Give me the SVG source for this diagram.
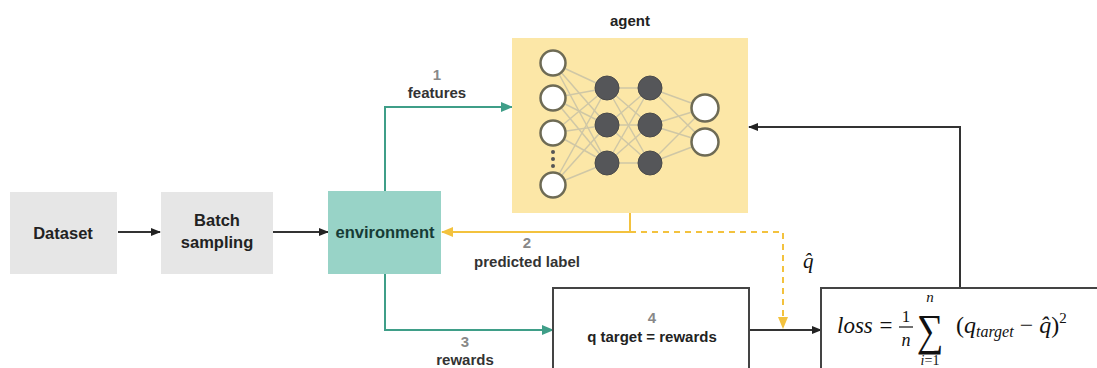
<svg xmlns="http://www.w3.org/2000/svg" width="1097" height="368" viewBox="0 0 1097 368">
<defs>
<style>
.lbl{font-family:"Liberation Sans",Arial,sans-serif;font-weight:bold;font-size:16.5px;fill:#222;text-anchor:middle}
.el{font-family:"Liberation Sans",Arial,sans-serif;font-weight:bold;font-size:15px;fill:#333;text-anchor:middle}
.num{font-family:"Liberation Sans",Arial,sans-serif;font-weight:bold;font-size:15px;fill:#888;text-anchor:middle}
.math{font-family:"Liberation Serif","DejaVu Serif",serif;font-style:italic;fill:#111}
.gray{fill:#e6e6e6}
.wbox{fill:#fff;stroke:#444;stroke-width:2}
.blk{fill:none;stroke:#333;stroke-width:2}
.teal{fill:none;stroke:#3f9e88;stroke-width:2}
.yel{fill:none;stroke:#f3c23e;stroke-width:2}
.nn{stroke:#cfc7a6;stroke-width:1.5}
.in{fill:#fff;stroke:#6e6b55;stroke-width:2.5}
.hid{fill:#555659;stroke:#4a4a4a;stroke-width:1}
</style>
<marker id="ab" markerWidth="10" markerHeight="8" refX="9" refY="4" orient="auto" markerUnits="userSpaceOnUse"><path d="M0,0 L10,4 L0,8 z" fill="#222"/></marker>
<marker id="at" markerWidth="12" markerHeight="10" refX="11" refY="5" orient="auto" markerUnits="userSpaceOnUse"><path d="M0,0 L12,5 L0,10 z" fill="#3f9e88"/></marker>
<marker id="ay" markerWidth="12" markerHeight="10" refX="11" refY="5" orient="auto" markerUnits="userSpaceOnUse"><path d="M0,0 L12,5 L0,10 z" fill="#f3c23e"/></marker>
</defs>
<rect width="1097" height="368" fill="#fff"/>

<g id="connectors">
<line class="blk" x1="118" y1="232" x2="160" y2="232" marker-end="url(#ab)"/>
<line class="blk" x1="273" y1="232" x2="328" y2="232" marker-end="url(#ab)"/>
<path class="teal" d="M385,191 V107 H512" marker-end="url(#at)"/>
<path class="yel" d="M630,213 V232 H442" marker-end="url(#ay)"/>
<path class="yel" d="M630,232 H783 V328" stroke-dasharray="6,5" marker-end="url(#ay)"/>
<path class="teal" d="M385,274 V330 H553" marker-end="url(#at)"/>
<line class="blk" x1="749" y1="330" x2="821" y2="330" marker-end="url(#ab)"/>
<path class="blk" d="M960,288 V127 H749" marker-end="url(#ab)"/>
<text class="num" x="437" y="80">1</text>
<text class="el" x="437" y="98">features</text>
<text class="num" x="527" y="248">2</text>
<text class="el" x="527" y="267">predicted label</text>
<text class="num" x="465" y="347">3</text>
<text class="el" x="465" y="365">rewards</text>
<text class="math" x="803" y="268" font-size="21">q̂</text>
</g>

<g id="dataset">
<rect class="gray" x="10" y="192" width="107" height="82"/>
<text class="lbl" x="63" y="239">Dataset</text>
</g>

<g id="batch">
<rect class="gray" x="161" y="192" width="112" height="82"/>
<text class="lbl" x="217" y="226">Batch</text>
<text class="lbl" x="217" y="248">sampling</text>
</g>

<g id="environment">
<rect x="328" y="191" width="113" height="83" fill="#98d3c7"/>
<text class="lbl" x="385" y="238" style="fill:#163b36">environment</text>
</g>

<g id="agent">
<text class="el" x="630" y="26" style="fill:#222">agent</text>
<rect x="512" y="38" width="236" height="175" fill="#fce7a7"/>
<g class="nn">
<line x1="553" y1="63" x2="607" y2="88"/><line x1="553" y1="63" x2="607" y2="125"/><line x1="553" y1="63" x2="607" y2="163"/>
<line x1="553" y1="98" x2="607" y2="88"/><line x1="553" y1="98" x2="607" y2="125"/><line x1="553" y1="98" x2="607" y2="163"/>
<line x1="553" y1="133" x2="607" y2="88"/><line x1="553" y1="133" x2="607" y2="125"/><line x1="553" y1="133" x2="607" y2="163"/>
<line x1="553" y1="185" x2="607" y2="88"/><line x1="553" y1="185" x2="607" y2="125"/><line x1="553" y1="185" x2="607" y2="163"/>
<line x1="607" y1="88" x2="650" y2="88"/><line x1="607" y1="88" x2="650" y2="125"/><line x1="607" y1="88" x2="650" y2="163"/>
<line x1="607" y1="125" x2="650" y2="88"/><line x1="607" y1="125" x2="650" y2="125"/><line x1="607" y1="125" x2="650" y2="163"/>
<line x1="607" y1="163" x2="650" y2="88"/><line x1="607" y1="163" x2="650" y2="125"/><line x1="607" y1="163" x2="650" y2="163"/>
<line x1="650" y1="88" x2="705" y2="108"/><line x1="650" y1="88" x2="705" y2="142"/>
<line x1="650" y1="125" x2="705" y2="108"/><line x1="650" y1="125" x2="705" y2="142"/>
<line x1="650" y1="163" x2="705" y2="108"/><line x1="650" y1="163" x2="705" y2="142"/>
</g>
<circle class="in" cx="553" cy="63" r="12.5"/>
<circle class="in" cx="553" cy="98" r="12.5"/>
<circle class="in" cx="553" cy="133" r="12.5"/>
<circle class="in" cx="553" cy="185" r="12.5"/>
<circle cx="553" cy="152" r="2" fill="#555"/>
<circle cx="553" cy="159" r="2" fill="#555"/>
<circle cx="553" cy="166" r="2" fill="#555"/>
<circle class="hid" cx="607" cy="88" r="12"/>
<circle class="hid" cx="607" cy="125" r="12"/>
<circle class="hid" cx="607" cy="163" r="12"/>
<circle class="hid" cx="650" cy="88" r="12"/>
<circle class="hid" cx="650" cy="125" r="12"/>
<circle class="hid" cx="650" cy="163" r="12"/>
<circle class="in" cx="705" cy="108" r="13.5"/>
<circle class="in" cx="705" cy="142" r="13.5"/>
</g>

<g id="qtarget">
<rect class="wbox" x="553" y="288" width="196" height="100"/>
<text class="num" x="652" y="323">4</text>
<text class="el" x="652" y="342" style="fill:#222">q target = rewards</text>
</g>

<g id="loss">
<rect class="wbox" x="821" y="288" width="290" height="100"/>
<text class="math" x="837" y="333" font-size="23">loss</text>
<text x="886" y="333" font-size="23" font-family="Liberation Serif,serif" text-anchor="middle" fill="#111">=</text>
<text x="906" y="322" font-size="17" font-family="Liberation Serif,serif" text-anchor="middle" fill="#111">1</text>
<line x1="899" y1="327" x2="913" y2="327" stroke="#111" stroke-width="1.2"/>
<text class="math" x="906" y="346" font-size="18" text-anchor="middle">n</text>
<text class="math" x="930" y="302" font-size="15" text-anchor="middle">n</text>
<text transform="translate(930,345) scale(1.1,1.3)" font-size="34" font-family="Liberation Serif,DejaVu Serif,serif" text-anchor="middle" fill="#111">∑</text>
<text x="930" y="365" font-size="14" font-family="Liberation Serif,serif" text-anchor="middle" fill="#111"><tspan font-style="italic">i</tspan>=1</text>
<text x="956" y="333" font-size="24" font-family="Liberation Serif,DejaVu Serif,serif" fill="#111">(<tspan font-style="italic">q</tspan><tspan font-style="italic" font-size="16" dy="4">target</tspan><tspan dy="-4"> − </tspan><tspan font-style="italic">q̂</tspan>)<tspan font-size="15" dy="-10">2</tspan></text>
</g>
</svg>
